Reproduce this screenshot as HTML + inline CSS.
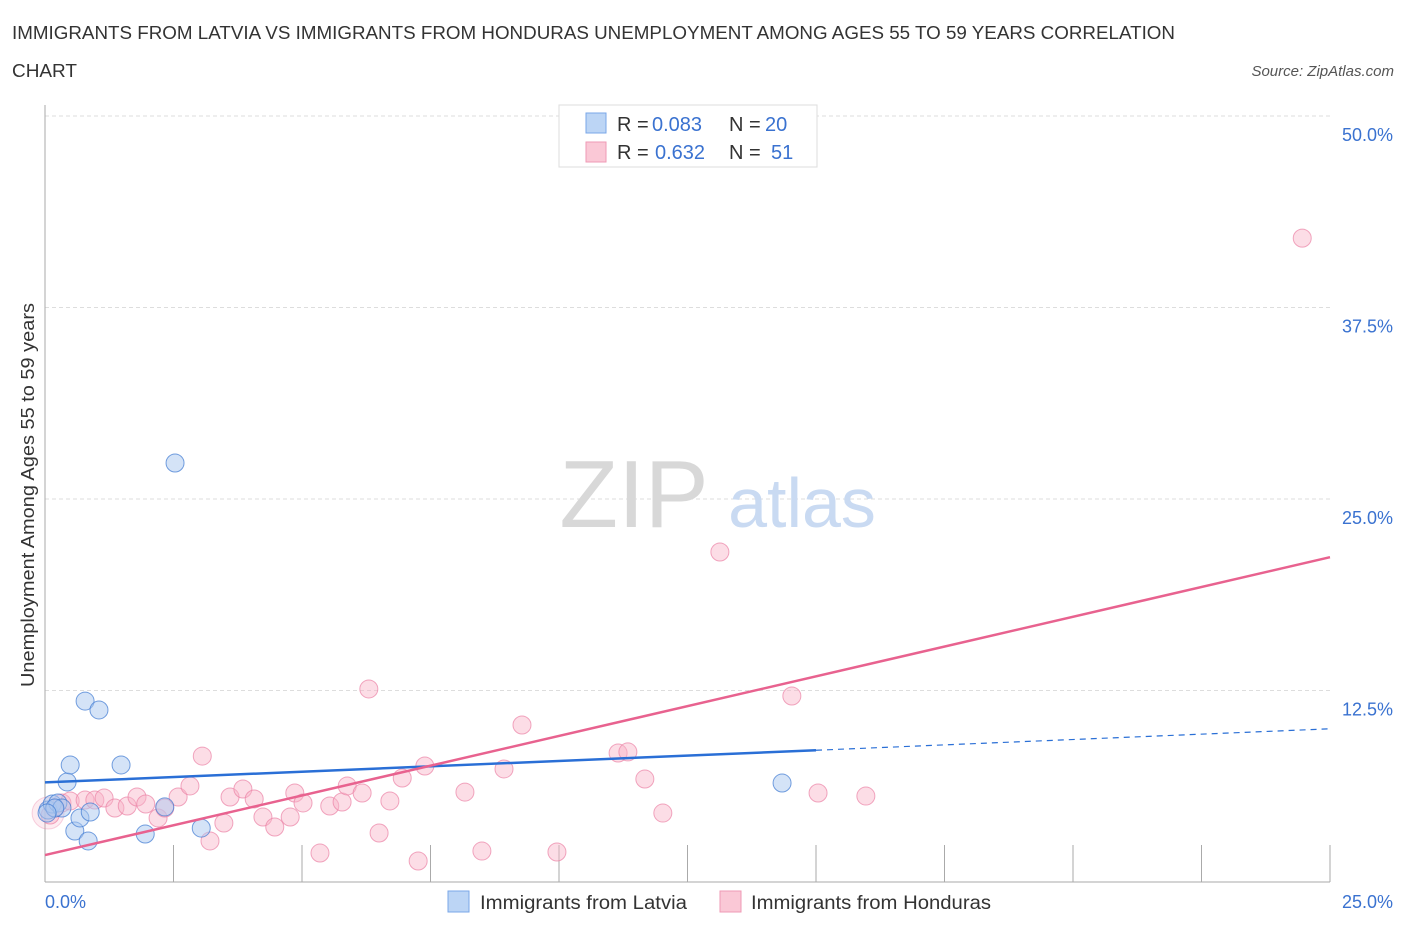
<!DOCTYPE html>
<html><head><meta charset="utf-8"><style>
body{margin:0;background:#fff;font-family:"Liberation Sans",sans-serif;}
svg text{font-family:"Liberation Sans",sans-serif;}
</style></head><body>
<svg id="chart" width="1406" height="930">
<text x="12" y="39" font-size="18" fill="#333" textLength="1163" lengthAdjust="spacingAndGlyphs">IMMIGRANTS FROM LATVIA VS IMMIGRANTS FROM HONDURAS UNEMPLOYMENT AMONG AGES 55 TO 59 YEARS CORRELATION</text>
<text x="12" y="77" font-size="18" fill="#333" textLength="65" lengthAdjust="spacingAndGlyphs">CHART</text>
<text x="1394" y="76" font-size="15" fill="#555" font-style="italic" text-anchor="end">Source: ZipAtlas.com</text>
<g id="grid"></g>
<text x="634" y="527" font-size="96" fill="#d8d8d8" font-family="Liberation Serif" text-anchor="middle">ZIP</text>
<text x="802" y="527" font-size="70" fill="#c9daf2" text-anchor="middle">atlas</text>
<g id="points"></g>
<g id="lines"></g>
<text transform="translate(34,495) rotate(-90)" font-size="18" fill="#333" text-anchor="middle" textLength="384" lengthAdjust="spacingAndGlyphs">Unemployment Among Ages 55 to 59 years</text>
<text x="45" y="908" font-size="18" fill="#3a72d0">0.0%</text>
<text x="1393" y="908" font-size="18" fill="#3a72d0" text-anchor="end">25.0%</text>
<g>
<rect x="559" y="105" width="258" height="62" fill="#fff" stroke="#ddd"/>
<rect x="586" y="113" width="20" height="20" fill="#bcd5f5" stroke="#7aa7e8"/>
<rect x="586" y="142" width="20" height="20" fill="#fac8d6" stroke="#ef9ab5"/>
<text x="617" y="131" font-size="20" fill="#333">R =</text>
<text x="652" y="131" font-size="20" fill="#3a72d0">0.083</text>
<text x="729" y="131" font-size="20" fill="#333">N =</text>
<text x="765" y="131" font-size="20" fill="#3a72d0">20</text>
<text x="617" y="159" font-size="20" fill="#333">R =</text>
<text x="655" y="159" font-size="20" fill="#3a72d0">0.632</text>
<text x="729" y="159" font-size="20" fill="#333">N =</text>
<text x="771" y="159" font-size="20" fill="#3a72d0">51</text>
</g>
<g>
<rect x="448" y="891" width="21" height="21" fill="#bcd5f5" stroke="#7aa7e8"/>
<text x="480" y="909" font-size="19" fill="#333" textLength="207" lengthAdjust="spacingAndGlyphs">Immigrants from Latvia</text>
<rect x="720" y="891" width="21" height="21" fill="#fac8d6" stroke="#ef9ab5"/>
<text x="751" y="909" font-size="19" fill="#333" textLength="240" lengthAdjust="spacingAndGlyphs">Immigrants from Honduras</text>
</g>
</svg>
<script>
const yTicks=[12.5,25,37.5,50];
const yTickLabels=["12.5%","25.0%","37.5%","50.0%"];
const xTicks=[0,2.5,5,7.5,10,12.5,15,17.5,20,22.5,25];
const latviaX=[0.06,0.14,0.25,0.33,0.43,0.49,0.58,0.68,0.78,0.84,0.88,1.05,1.48,1.95,2.33,2.53,3.04,14.34,0.19,0.04];
const latviaY=[4.70,5.09,5.16,4.83,6.53,7.64,3.33,4.18,11.81,2.68,4.57,11.23,7.64,3.13,4.90,27.35,3.52,6.46,4.83,4.50];
const hondX=[0.10,0.19,0.33,0.49,0.78,0.97,1.15,1.36,1.60,1.79,1.96,2.20,2.33,2.59,2.82,3.06,3.21,3.48,3.60,3.85,4.07,4.24,4.47,4.77,4.86,5.02,5.35,5.54,5.78,5.88,6.17,6.30,6.50,6.71,6.95,7.26,7.39,8.17,8.50,8.93,9.28,9.96,11.15,11.34,11.67,12.02,13.13,14.53,15.04,15.97,24.46];
const hondY=[4.37,4.83,5.16,5.29,5.35,5.35,5.48,4.83,4.96,5.55,5.09,4.18,4.83,5.55,6.27,8.22,2.68,3.85,5.55,6.07,5.42,4.24,3.59,4.24,5.81,5.16,1.89,4.96,5.22,6.27,5.81,12.60,3.20,5.29,6.79,1.37,7.57,5.87,2.02,7.38,10.25,1.96,8.42,8.49,6.72,4.50,21.54,12.14,5.81,5.61,42.03];
const latviaTrend=[6.5,10.0];
const hondTrend=[1.76,21.2];
const NS="http://www.w3.org/2000/svg";
const sx=v=>45+v*51.4, sy=v=>882-v*15.32;
function mk(tag,attrs,parent){const e=document.createElementNS(NS,tag);for(const k in attrs)e.setAttribute(k,attrs[k]);parent.appendChild(e);return e;}
const grid=document.getElementById('grid');
yTicks.forEach((t,i)=>{
 const l=mk('line',{x1:45,x2:1330,y1:sy(t),y2:sy(t),stroke:'#ddd','stroke-dasharray':'4,3'},grid);
 
 
 const tx=mk('text',{x:1393,y:sy(t)+25,'font-size':18,fill:'#3a72d0','text-anchor':'end'},grid);
 tx.textContent=yTickLabels[i];
 
 
});
const ax=mk('line',{x1:45,x2:45,y1:105,y2:882,stroke:'#aaa'},grid);


const bx=mk('line',{x1:45,x2:1330,y1:882,y2:882,stroke:'#aaa'},grid);


xTicks.forEach(t=>{
 const l=mk('line',{x1:sx(t),x2:sx(t),y1:845,y2:882,stroke:'#aaa'},grid);
 
 
});
const pts=document.getElementById('points');
const big=mk('circle',{cx:sx(0.06),cy:sy(4.5),r:16,fill:'rgba(245,160,185,0.2)',stroke:'rgba(235,130,165,0.35)'},pts);


hondX.forEach((x,i)=>{
 const c=mk('circle',{cx:sx(x),cy:sy(hondY[i]),r:9,fill:'rgba(248,180,200,0.45)',stroke:'rgba(235,130,165,0.7)'},pts);
 
 
});
latviaX.forEach((x,i)=>{
 const c=mk('circle',{cx:sx(x),cy:sy(latviaY[i]),r:9,fill:'rgba(170,200,240,0.5)',stroke:'rgba(60,120,210,0.7)'},pts);
 
 
});
const lines=document.getElementById('lines');
const ly=x=>latviaTrend[0]+(latviaTrend[1]-latviaTrend[0])*x/25;
const l1=mk('line',{x1:sx(0),y1:sy(ly(0)),x2:sx(15),y2:sy(ly(15)),stroke:'#2a6fd6','stroke-width':2.5},lines);


const l2=mk('line',{x1:sx(15),y1:sy(ly(15)),x2:sx(25),y2:sy(ly(25)),stroke:'#2a6fd6','stroke-width':1.2,'stroke-dasharray':'6,5'},lines);


const l3=mk('line',{x1:sx(0),y1:sy(hondTrend[0]),x2:sx(25),y2:sy(hondTrend[1]),stroke:'#e8628f','stroke-width':2.5},lines);


</script>
</body></html>
